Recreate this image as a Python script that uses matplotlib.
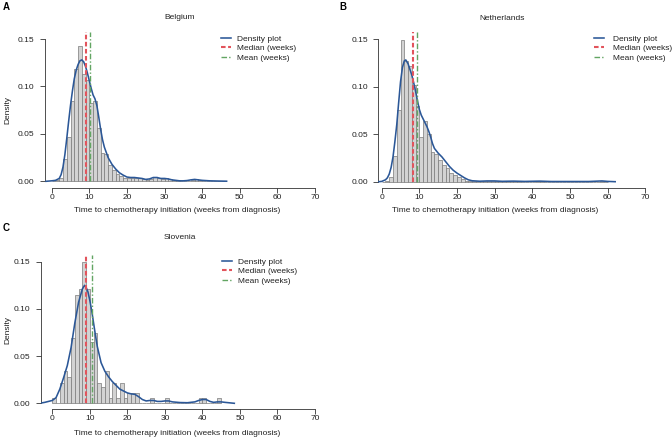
import numpy as np
import matplotlib
matplotlib.use("Agg")
import matplotlib.pyplot as plt

plt.rcParams['font.family'] = ['Liberation Sans', 'DejaVu Sans']

# histogram densities, one-week bins starting at week 0
belgium_hist = [0.0, 0.001, 0.003, 0.024, 0.047, 0.085, 0.118, 0.143, 0.113, 0.107,
                0.083, 0.085, 0.056, 0.030, 0.029, 0.017, 0.012, 0.008, 0.0055, 0.004,
                0.003, 0.003, 0.004, 0.003, 0.002, 0.0015, 0.002, 0.005, 0.003, 0.002,
                0.003, 0.002, 0.001, 0.001, 0.0005, 0.0005, 0.0005, 0.001, 0.002, 0.001,
                0.0005, 0.0, 0.0005, 0.0, 0.0, 0.0005]
netherlands_hist = [0.0, 0.0005, 0.005, 0.027, 0.075, 0.149, 0.127, 0.122, 0.102, 0.080,
                    0.047, 0.064, 0.050, 0.031, 0.029, 0.023, 0.018, 0.014, 0.009, 0.0075,
                    0.0046, 0.0025, 0.0012, 0.0008, 0.0005, 0.0004, 0.0004, 0.0006, 0.0008, 0.0008,
                    0.0008, 0.0005, 0.0003, 0.0003, 0.0004, 0.0006, 0.0003, 0.0002, 0.0002, 0.0002,
                    0.0002, 0.0004, 0.0006, 0.0002, 0.0001, 0.0002, 0.0001, 0.0001, 0.0002, 0.0001,
                    0.0001, 0.0001, 0.0001, 0.0, 0.0001, 0.0001, 0.0, 0.0002, 0.0008, 0.0002]
slovenia_hist = [0.0054, 0.0, 0.022, 0.034, 0.028, 0.069, 0.115, 0.121, 0.150, 0.121,
                 0.065, 0.075, 0.022, 0.017, 0.034, 0.0054, 0.022, 0.0054, 0.022, 0.0054,
                 0.011, 0.011, 0.011, 0.0, 0.0, 0.0, 0.0054, 0.0, 0.0, 0.0,
                 0.0054, 0.0, 0.0, 0.0, 0.0, 0.0, 0.0, 0.0, 0.0, 0.0054,
                 0.0054, 0.0, 0.0, 0.0, 0.0054]

# density curves (weeks, density)
belgium_kde_x = [-1.5, 0, 1, 2, 2.5, 3, 3.5, 4, 4.5, 5, 5.5, 6, 6.5, 7, 7.5, 8, 8.5, 9, 9.5, 10,
                 10.5, 11, 11.5, 12, 12.5, 13, 13.5, 14, 15, 16, 17, 18, 19, 20, 21, 22, 23, 24,
                 25, 26, 27, 28, 29, 30, 31, 32, 33, 34, 35, 36, 37, 38, 39, 40, 42, 44, 46.5]
belgium_kde_y = [0.0, 0.0005, 0.001, 0.003, 0.007, 0.015, 0.028, 0.045, 0.063, 0.080, 0.095, 0.108,
                 0.117, 0.123, 0.127, 0.128, 0.126, 0.121, 0.114, 0.106,
                 0.098, 0.091, 0.087, 0.080, 0.068, 0.055, 0.044, 0.036, 0.025, 0.018, 0.013,
                 0.009, 0.0065, 0.0045, 0.004, 0.004, 0.0035, 0.003,
                 0.002, 0.0025, 0.004, 0.004, 0.003, 0.003, 0.0025, 0.0015, 0.001, 0.0005, 0.0005,
                 0.0008, 0.0015, 0.002, 0.0015, 0.001, 0.0005, 0.0003, 0.0001]
netherlands_kde_x = [-0.8, 0, 1, 1.5, 2, 2.5, 3, 3.5, 4, 4.5, 5, 5.5, 6, 6.4, 7, 7.5, 8, 8.5, 9, 9.5,
                     10, 10.5, 11, 11.5, 12, 12.5, 13, 13.5, 14, 15, 16, 17, 18, 19, 20, 21, 22, 23,
                     24, 26, 28, 30, 32, 35, 38, 42, 45, 50, 55, 58.5, 60, 62]
netherlands_kde_y = [0.0, 0.0003, 0.002, 0.004, 0.008, 0.015, 0.026, 0.042, 0.060, 0.083, 0.105,
                     0.120, 0.127, 0.128, 0.124, 0.118, 0.112, 0.104, 0.095, 0.085,
                     0.076, 0.070, 0.066, 0.062, 0.058, 0.053, 0.047, 0.040, 0.035, 0.030, 0.026,
                     0.021, 0.016, 0.012, 0.009, 0.0065, 0.004, 0.002,
                     0.001, 0.0005, 0.0008, 0.0008, 0.0004, 0.0006, 0.0003, 0.0006, 0.0002, 0.0002,
                     0.0002, 0.0008, 0.0003, 0.0]
slovenia_kde_x = [-3, -2, -1, 0, 1, 2, 3, 4, 5, 6, 7, 8, 8.6, 9, 9.5, 10, 10.5, 11, 11.5, 12,
                  13, 14, 15, 16, 17, 18, 19, 20, 21, 22, 23, 24, 25, 26, 27, 28, 29, 30, 31, 32,
                  34, 36, 38, 39, 40, 41, 42, 43, 44, 45, 46, 48.5]
slovenia_kde_y = [0.0003, 0.001, 0.002, 0.003, 0.006, 0.015, 0.027, 0.040, 0.059, 0.085, 0.107,
                  0.121, 0.125, 0.123, 0.118, 0.109, 0.098, 0.085, 0.072, 0.060,
                  0.043, 0.034, 0.028, 0.023, 0.019, 0.015, 0.013, 0.011, 0.010, 0.0095, 0.007,
                  0.004, 0.0025, 0.003, 0.003, 0.002, 0.002, 0.0025, 0.0025, 0.0015,
                  0.0008, 0.0006, 0.0015, 0.003, 0.004, 0.004, 0.002, 0.001, 0.0015, 0.0015,
                  0.001, 0.0]

countries = ["Belgium", "Netherlands", "Slovenia"]
panel_letters = ["A", "B", "C"]
medians = [9.0, 8.3, 9.0]
means = [10.2, 9.4, 10.6]
x_ticks = [0, 10, 20, 30, 40, 50, 60, 70]
y_ticks = [0.00, 0.05, 0.10, 0.15]

W, H = 672, 440
fig = plt.figure(figsize=(W / 100, H / 100), dpi=100)

BLUE = "#2B5797"
RED = "#E2545C"
GREEN = "#62A562"
TXT = "#222222"
FS = 6


def fx(px):
    return px / W


def fy(py):
    return 1 - py / H


def make_axes(x0, x70, y0, y15, xlim, ylim):
    # pixel anchors of week 0 / week 70 and density 0 / 0.15
    sx = (x70 - x0) / 70
    sy = (y0 - y15) / 0.15
    left = x0 + xlim[0] * sx
    right = x0 + xlim[1] * sx
    top = y0 - ylim[1] * sy
    bottom = y0 - ylim[0] * sy
    ax = fig.add_axes([fx(left), fy(bottom), (right - left) / W, (bottom - top) / H])
    ax.set_xlim(xlim)
    ax.set_ylim(ylim)
    return ax


def draw_panel(ax, hist, kx, ky, med, mean, leg_xy, textpad):
    edges = np.arange(len(hist))
    ax.bar(edges, hist, width=1, align='edge', color='#D3D3D3',
           edgecolor='#7A7A7A', linewidth=0.5, zorder=1)
    ax.plot(kx, ky, color=BLUE, lw=1.15, label='Density plot', zorder=3)
    y0, y1 = ax.get_ylim()
    ymin = (0 - y0) / (y1 - y0)
    ax.axvline(med, ymin=ymin, ymax=1, color=RED, lw=1.5, dashes=(2.2, 1.2),
               label='Median (weeks)', zorder=4)
    ax.axvline(mean, ymin=ymin, ymax=1, color=GREEN, lw=1.0, dashes=(4, 1.5, 1, 1.5),
               label='Mean (weeks)', zorder=4)

    for s in ['top', 'right']:
        ax.spines[s].set_visible(False)
    ax.spines['left'].set_bounds(0, 0.15)
    ax.spines['bottom'].set_bounds(0, 70)
    for s in ['left', 'bottom']:
        ax.spines[s].set_linewidth(0.6)
        ax.spines[s].set_color('#333333')
    ax.set_xticks(x_ticks)
    ax.set_yticks(y_ticks)
    ax.set_yticklabels([f"{v:.2f}" for v in y_ticks])
    ax.tick_params(axis='both', direction='out', length=3.6, width=0.6,
                   colors='#333333', labelsize=FS, labelcolor=TXT)
    ax.tick_params(axis='x', pad=0.8)
    ax.tick_params(axis='y', pad=4)
    ax.patch.set_visible(False)

    ax.legend(loc='upper left', bbox_to_anchor=(fx(leg_xy[0]), fy(leg_xy[1])),
              bbox_transform=fig.transFigure, frameon=False, fontsize=FS,
              borderpad=0, borderaxespad=0, handlelength=1.2,
              handletextpad=textpad, labelspacing=0.2, labelcolor=TXT)


panels = [
    dict(anchor=(51.7, 315, 181.3, 39), xlim=(-1.8, 72), ylim=(-0.007, 0.157),
         letter=(3, 6.5), title=(180, 17.5), xlabel=(177, 210.7), ylabel=(8.3, 110),
         legend=(221, 35), pad=0.7),
    dict(anchor=(381.7, 645.3, 181.7, 39), xlim=(-0.9, 72), ylim=(-0.0063, 0.157),
         letter=(339.5, 6.5), title=(501.7, 19), xlabel=(495, 210.7), ylabel=None,
         legend=(594, 35), pad=1.1),
    dict(anchor=(52.3, 315, 403.3, 261.7), xlim=(-3.0, 72), ylim=(-0.006, 0.157),
         letter=(3, 227.5), title=(180, 237.3), xlabel=(177, 433.3), ylabel=(8.3, 330),
         legend=(222, 257.7), pad=0.7),
]
hists = [belgium_hist, netherlands_hist, slovenia_hist]
kdes = [(belgium_kde_x, belgium_kde_y), (netherlands_kde_x, netherlands_kde_y),
        (slovenia_kde_x, slovenia_kde_y)]

for i, p in enumerate(panels):
    ax = make_axes(*p['anchor'], p['xlim'], p['ylim'])
    draw_panel(ax, hists[i], kdes[i][0], kdes[i][1], medians[i], means[i],
               p['legend'], p['pad'])
    fig.text(fx(p['letter'][0]), fy(p['letter'][1]), panel_letters[i], fontsize=7,
             fontweight='bold', ha='left', va='center', color='black')
    fig.text(fx(p['title'][0]), fy(p['title'][1]), countries[i], fontsize=FS,
             ha='center', va='center', color=TXT)
    fig.text(fx(p['xlabel'][0]), fy(p['xlabel'][1]),
             "Time to chemotherapy initiation (weeks from diagnosis)",
             fontsize=FS, ha='center', va='center', color=TXT)
    if p['ylabel'] is not None:
        fig.text(fx(p['ylabel'][0]), fy(p['ylabel'][1]), "Density", fontsize=FS,
                 rotation=90, ha='center', va='center', color=TXT)

fig.savefig("out.png", dpi=100)
